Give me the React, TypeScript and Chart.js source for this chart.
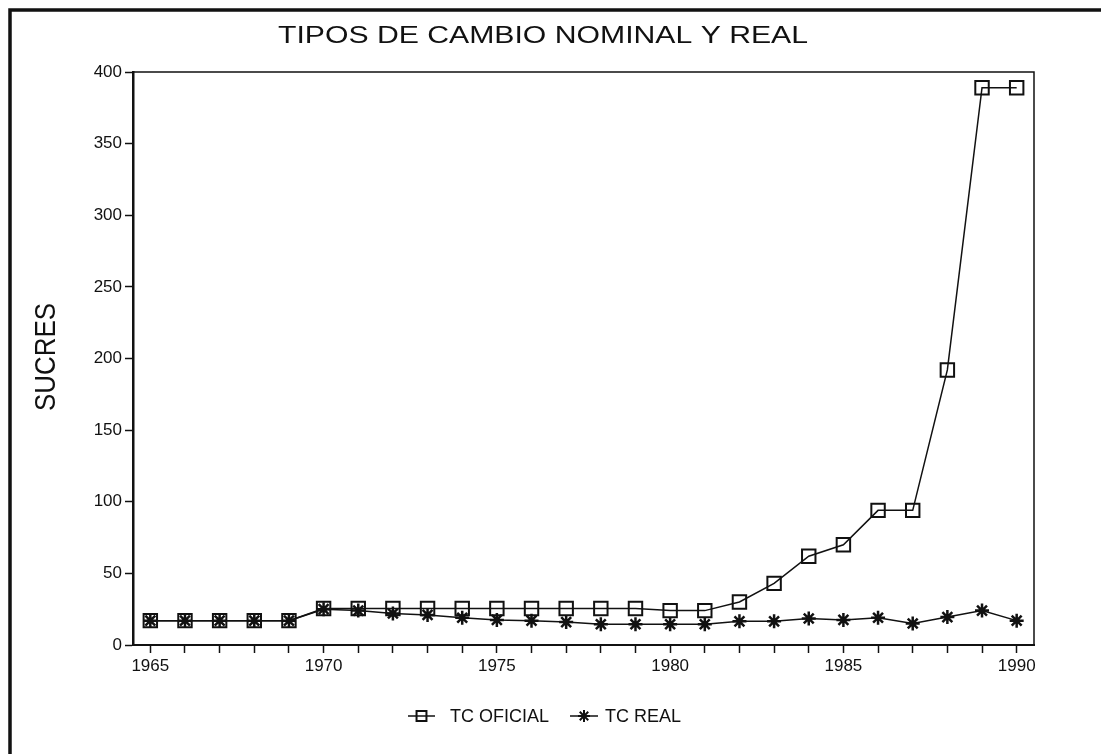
import React, { useEffect, useRef } from "react";
import { Chart, registerables } from "chart.js";
import { drawPoint } from "chart.js/helpers";

Chart.register(...registerables);

const TITLE = "TIPOS DE CAMBIO NOMINAL Y REAL";
const Y_TITLE = "SUCRES";
const SERIES_NAMES = ["TC OFICIAL", "TC REAL"];

const years = [
  1965, 1966, 1967, 1968, 1969, 1970, 1971, 1972, 1973, 1974, 1975, 1976, 1977,
  1978, 1979, 1980, 1981, 1982, 1983, 1984, 1985, 1986, 1987, 1988, 1989, 1990,
];

const tcOficial = [
  17, 17, 17, 17, 17, 25.5, 25.5, 25.5, 25.5, 25.5, 25.5, 25.5, 25.5, 25.5, 25.5,
  24, 24, 30, 43, 62, 70, 94, 94, 192, 389, 389,
];

const tcReal = [
  17, 17, 17, 17, 17, 25, 24, 22, 21, 19, 17.5, 17, 16, 14.5, 14.5, 14.5, 14.5,
  16.5, 16.5, 18.5, 17.5, 19, 15, 19.5, 24, 17,
];

const yTicks = [0, 50, 100, 150, 200, 250, 300, 350, 400];
const xLabelEvery = 5;

const W = 1101;
const H = 754;
const FONT = '"Liberation Sans", Arial, sans-serif';

const decorPlugin = {
  id: "decor",
  beforeDraw(chart: any) {
    const ctx = chart.ctx;
    ctx.save();
    ctx.fillStyle = "#fff";
    ctx.fillRect(0, 0, chart.width, chart.height);
    ctx.restore();
  },
  afterDraw(chart: any) {
    const { ctx, chartArea: a } = chart;
    ctx.save();
    ctx.strokeStyle = "#111";
    // plot box top and right
    ctx.lineWidth = 1.5;
    ctx.beginPath();
    ctx.moveTo(a.left, a.top);
    ctx.lineTo(a.right, a.top);
    ctx.lineTo(a.right, a.bottom);
    ctx.stroke();
    // outer frame (top and left)
    ctx.lineWidth = 3.5;
    ctx.beginPath();
    ctx.moveTo(10, H);
    ctx.lineTo(10, 10);
    ctx.lineTo(W, 10);
    ctx.stroke();

    ctx.fillStyle = "#111";
    ctx.textBaseline = "middle";
    ctx.textAlign = "center";

    // title
    ctx.save();
    ctx.font = `24px ${FONT}`;
    const tw = ctx.measureText(TITLE).width;
    ctx.translate(543, 36);
    ctx.scale(530 / tw, 1);
    ctx.fillText(TITLE, 0, 0);
    ctx.restore();

    // y title
    ctx.save();
    ctx.font = `30px ${FONT}`;
    const yw = ctx.measureText(Y_TITLE).width;
    ctx.translate(47, 357);
    ctx.rotate(-Math.PI / 2);
    ctx.scale(108 / yw, 1);
    ctx.fillText(Y_TITLE, 0, 0);
    ctx.restore();

    // legend
    const legendY = 716;
    const items = [
      { x0: 408, x1: 435, tx: 450, ds: chart.data.datasets[0], r: 7, fill: "rgba(0,0,0,0)" },
      { x0: 570, x1: 598, tx: 605, ds: chart.data.datasets[1], r: 6, fill: "#111" },
    ];
    ctx.textAlign = "left";
    items.forEach((it, i) => {
      ctx.save();
      ctx.lineWidth = 1.5;
      ctx.strokeStyle = "#111";
      ctx.beginPath();
      ctx.moveTo(it.x0, legendY);
      ctx.lineTo(it.x1, legendY);
      ctx.stroke();
      ctx.lineWidth = 2;
      ctx.fillStyle = it.fill;
      drawPoint(
        ctx,
        { pointStyle: it.ds.pointStyle, rotation: 0, borderWidth: 2, radius: it.r },
        (it.x0 + it.x1) / 2,
        legendY
      );
      ctx.restore();
      ctx.save();
      ctx.fillStyle = "#111";
      ctx.font = `18px ${FONT}`;
      ctx.textAlign = "left";
      ctx.textBaseline = "middle";
      ctx.fillText(SERIES_NAMES[i], it.tx, legendY + 1);
      ctx.restore();
    });
    ctx.restore();
  },
};

export default function App() {
  const ref = useRef<HTMLCanvasElement | null>(null);

  useEffect(() => {
    if (!ref.current) return;
    const chart = new Chart(ref.current, {
      type: "line",
      data: {
        datasets: [
          {
            label: SERIES_NAMES[0],
            data: years.map((yr, i) => ({ x: yr, y: tcOficial[i] })),
            borderColor: "#111",
            borderWidth: 1.5,
            pointStyle: "rect",
            pointRadius: 9.5,
            pointBorderWidth: 2,
            pointBorderColor: "#111",
            pointBackgroundColor: "rgba(0,0,0,0)",
            tension: 0,
          },
          {
            label: SERIES_NAMES[1],
            data: years.map((yr, i) => ({ x: yr, y: tcReal[i] })),
            borderColor: "#111",
            borderWidth: 1.5,
            pointStyle: "star",
            pointRadius: 7,
            pointBorderWidth: 2.5,
            pointBorderColor: "#111",
            pointBackgroundColor: "#111",
            tension: 0,
          },
        ],
      },
      options: {
        animation: false,
        responsive: false,
        devicePixelRatio: 1,
        layout: { padding: { left: 8, top: 72, right: 67, bottom: 69 } },
        plugins: {
          legend: { display: false },
          title: { display: false },
          tooltip: { enabled: false },
        },
        scales: {
          x: {
            type: "linear",
            min: 1964.5,
            max: 1990.5,
            afterFit: (s: any) => {
              s.height = 40;
            },
            afterBuildTicks: (s: any) => {
              s.ticks = years.map((v) => ({ value: v }));
            },
            grid: {
              display: true,
              drawOnChartArea: false,
              drawTicks: true,
              tickLength: 8,
              color: "#111",
              tickWidth: 1.5,
            },
            border: { display: true, color: "#111", width: 2 },
            ticks: {
              autoSkip: false,
              maxRotation: 0,
              padding: 3,
              color: "#111",
              font: { family: FONT, size: 17 },
              callback: (v: any) => (Number(v) % xLabelEvery === 0 ? String(v) : ""),
            },
          },
          y: {
            type: "linear",
            min: yTicks[0],
            max: yTicks[yTicks.length - 1],
            afterFit: (s: any) => {
              s.width = 125;
            },
            afterBuildTicks: (s: any) => {
              s.ticks = yTicks.map((v) => ({ value: v }));
            },
            grid: {
              display: true,
              drawOnChartArea: false,
              drawTicks: true,
              tickLength: 8,
              color: "#111",
              tickWidth: 1.5,
            },
            border: { display: true, color: "#111", width: 2.5 },
            ticks: {
              padding: 3,
              color: "#111",
              font: { family: FONT, size: 17 },
              callback: (v: any) => String(v),
            },
          },
        },
      },
      plugins: [decorPlugin],
    } as any);
    return () => chart.destroy();
  }, []);

  return (
    <div
      style={{
        position: "fixed",
        left: 0,
        top: 0,
        width: W,
        height: H,
        background: "#fff",
      }}
    >
      <canvas ref={ref} width={W} height={H} style={{ display: "block" }} />
    </div>
  );
}
